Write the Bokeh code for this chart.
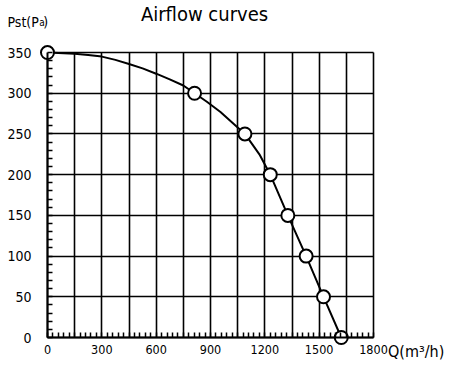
from bokeh.plotting import figure
from bokeh.models import Range1d, FixedTicker, Label
from bokeh.embed import file_html
from bokeh.resources import INLINE

# measured points (Q in m3/h, Pst in Pa)
q_points = [0, 812, 1090, 1230, 1327, 1428, 1524, 1622]
p_points = [350, 300, 250, 200, 150, 100, 50, 0]

# curve (including points between markers)
q_curve = [0, 150, 225, 300, 375, 450, 525, 600, 675, 750, 812, 880, 955,
           1090, 1170, 1230, 1327, 1428, 1524, 1622]
p_curve = [350, 348.5, 347, 345, 341, 336, 330.5, 324, 317, 309.5, 300, 289.5, 277,
           250, 225, 200, 150, 100, 50, 0]

x_ticks = [0, 300, 600, 900, 1200, 1500, 1800]
x_grid = [0, 150, 300, 450, 600, 750, 900, 1050, 1200, 1350, 1500, 1650, 1800]
x_minor = [v for v in range(0, 1801, 30)]
y_ticks = [0, 50, 100, 150, 200, 250, 300, 350]
y_minor = [v for v in range(0, 351, 10)]

FONT = "DejaVu Sans Condensed"

# the frame covers the whole canvas; ranges chosen so that the
# chart area sits where it does in the reference
p = figure(width=450, height=366,
           x_range=Range1d(-259.5, 2225.1), y_range=Range1d(-35.6, 413.9),
           output_backend="svg", toolbar_location=None, min_border=0)
p.outline_line_color = None
p.background_fill_color = "white"
p.border_fill_color = "white"

# axes
for ax, ticks, minor, bnd in ((p.xaxis[0], x_ticks, x_minor, (0, 1800)),
                              (p.yaxis[0], y_ticks, y_minor, (0, 350))):
    ax.fixed_location = 0
    ax.bounds = bnd
    ax.ticker = FixedTicker(ticks=ticks, minor_ticks=minor)
    ax.axis_line_color = "black"
    ax.axis_line_width = 2
    ax.major_tick_in = 0
    ax.major_tick_out = 0
    ax.minor_tick_in = 5
    ax.minor_tick_out = 0
    ax.minor_tick_line_color = "black"
    ax.minor_tick_line_width = 1.5
    ax.major_label_text_color = "black"
    ax.major_label_text_font = FONT

p.xaxis[0].major_label_text_font_size = "12.5px"
p.xaxis[0].major_label_standoff = 7
p.yaxis[0].major_label_text_font_size = "14px"
p.yaxis[0].major_label_standoff = 16

# grids
p.xgrid.ticker = FixedTicker(ticks=x_grid)
p.ygrid.ticker = FixedTicker(ticks=y_ticks)
for g, b, cb in ((p.xgrid[0], (0, 1800), (0, 350)), (p.ygrid[0], (0, 350), (0, 1800))):
    g.grid_line_color = "black"
    g.grid_line_width = 1.6
    g.grid_line_alpha = 1
    g.bounds = b
    if "cross_bounds" in g.properties():
        g.cross_bounds = cb

# curve and markers
p.line(q_curve, p_curve, line_color="black", line_width=2)
p.scatter(q_points, p_points, marker="circle", size=13,
          line_color="black", line_width=2, fill_color="white")

# texts
def add_text(x, y, txt, size, align="left"):
    p.add_layout(Label(x=x, y=y, text=txt, text_align=align,
                       text_baseline="alphabetic", text_font=FONT,
                       text_font_size=size, text_color="black"))

add_text(867, 397, "Airflow curves", "20px", align="center")
add_text(-221, 388, "Pst(P", "14px")
add_text(-45, 387, "a", "10px")
add_text(-24, 388, ")", "14px")
add_text(1880, -17, "Q(m³/h)", "16px")

open("out.html", "w").write(file_html(p, INLINE))
